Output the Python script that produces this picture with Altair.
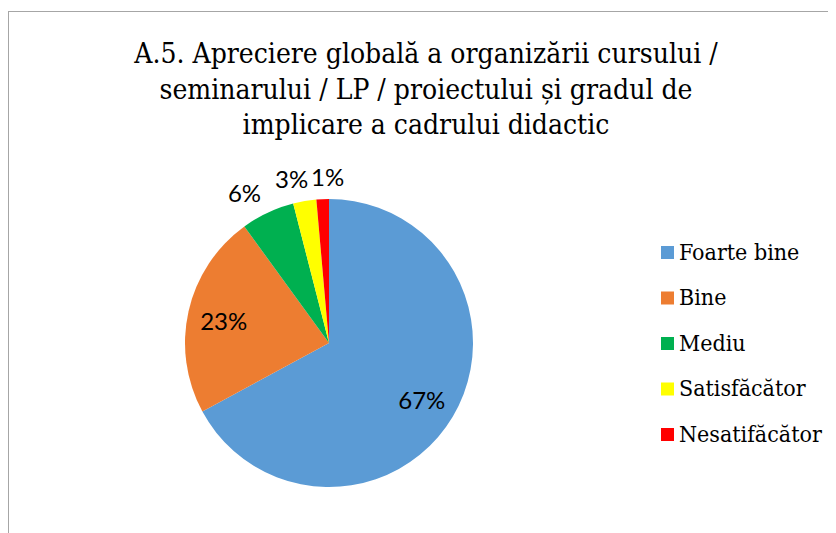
import altair as alt
import pandas as pd

categories = ["Foarte bine", "Bine", "Mediu", "Satisfăcător", "Nesatifăcător"]
values = [67.1, 22.9, 6.0, 2.6, 1.4]
colors = ["#5B9BD5", "#ED7D31", "#00B050", "#FFFF00", "#FF0000"]
title_lines = [
    "A.5. Apreciere globală a organizării cursului /",
    "seminarului / LP / proiectului și gradul de",
    "implicare a cadrului didactic",
]

df = pd.DataFrame({
    "categorie": categories,
    "valoare": values,
    "ordine": list(range(len(categories))),
})

SERIF = "DejaVu Serif Condensed, DejaVu Serif, serif"
W, H = 820, 525
CX, CY, R = 321, 335, 144
R_IN, R_OUT = 108, 168
outside_nudge = {"Mediu": -13, "Satisfăcător": -9, "Nesatifăcător": 6}

theta_scale = alt.Scale(domain=[0, 100], range=[0, 6.283185307179586])

base = alt.Chart(df).transform_joinaggregate(
    total="sum(valoare)"
).transform_window(
    cum="sum(valoare)", sort=[alt.SortField("ordine")], frame=[None, 0]
).transform_calculate(
    start="(datum.cum - datum.valoare) / datum.total * 100",
    end="datum.cum / datum.total * 100",
    mid="(datum.cum - datum.valoare / 2) / datum.total * 100",
    pct="datum.valoare / datum.total",
)

pie = base.mark_arc(outerRadius=R).encode(
    theta=alt.Theta("start:Q", scale=theta_scale),
    theta2="end:Q",
    color=alt.Color(
        "categorie:N",
        scale=alt.Scale(domain=categories, range=colors),
        legend=alt.Legend(
            title=None,
            orient="none",
            legendX=648,
            legendY=233,
            symbolType="square",
            symbolSize=169,
            symbolStrokeWidth=0,
            labelFont=SERIF,
            labelFontSize=23,
            labelColor="#000000",
            labelOffset=0,
            rowPadding=21.5,
            padding=0,
            labelLimit=300,
        ),
    ),
    x=alt.value(CX),
    y=alt.value(CY),
)

label_style = dict(font="Lato", fontSize=24, color="#000000", align="center", baseline="middle", dy=4)

inside = base.transform_filter("datum.valoare >= 10").mark_text(**label_style).encode(
    theta=alt.Theta("mid:Q", scale=theta_scale),
    radius=alt.value(R_IN),
    text=alt.Text("pct:Q", format=".0%"),
    x=alt.value(CX),
    y=alt.value(CY),
)

outside_layers = []
for cat, nudge in outside_nudge.items():
    outside_layers.append(
        base.transform_filter(alt.datum.categorie == cat).mark_text(dx=nudge, **label_style).encode(
            theta=alt.Theta("mid:Q", scale=theta_scale),
            radius=alt.value(R_OUT),
            text=alt.Text("pct:Q", format=".0%"),
            x=alt.value(CX),
            y=alt.value(CY),
        )
    )

title = alt.Chart(pd.DataFrame({"titlu": ["\n".join(title_lines)]})).mark_text(
    lineBreak="\n", font=SERIF, fontSize=28, lineHeight=35.5,
    align="center", baseline="alphabetic", color="#000000",
).encode(text="titlu:N", x=alt.value(418), y=alt.value(55))

frame_data = alt.Data(values=[{"k": 1}])
border_top = alt.Chart(frame_data).mark_rule(color="#a6a6a6", strokeWidth=1).encode(
    x=alt.value(0), x2=alt.value(W), y=alt.value(3.5)
)
border_left = alt.Chart(frame_data).mark_rule(color="#a6a6a6", strokeWidth=1).encode(
    x=alt.value(0.5), y=alt.value(3), y2=alt.value(H)
)

chart = alt.layer(border_top, border_left, pie, inside, *outside_layers, title).properties(
    width=W, height=H, autosize=alt.AutoSizeParams(type="none"), padding=0,
).configure_view(strokeWidth=0)

chart.save("out.html", embed_options={"renderer": "svg", "actions": False})
